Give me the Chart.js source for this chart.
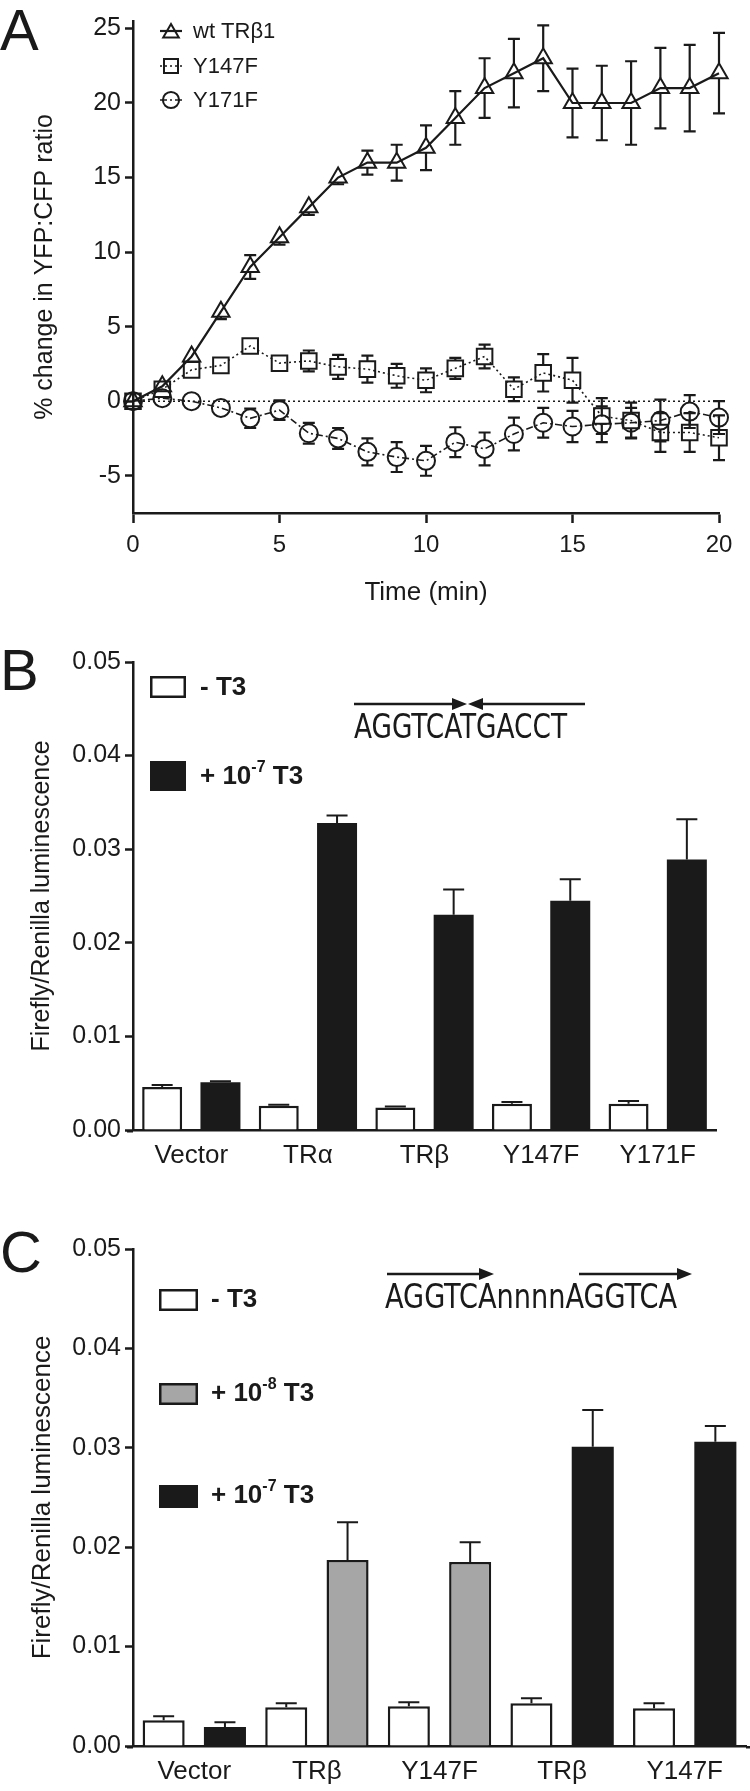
<!DOCTYPE html>
<html>
<head>
<meta charset="utf-8">
<script src="https://cdn.jsdelivr.net/npm/chart.js@4.4.1/dist/chart.umd.min.js"></script>
<style>
  body { margin: 0; background: #fff; width: 750px; height: 1791px; position: relative; overflow: hidden; }
  canvas { position: absolute; left: 0; }
</style>
</head>
<body>
<canvas id="panelA" width="750" height="620" style="top:0"></canvas>
<canvas id="panelB" width="750" height="570" style="top:620px"></canvas>
<canvas id="panelC" width="750" height="601" style="top:1190px"></canvas>
<script>
const FONT = '"Liberation Sans", Arial, Helvetica, sans-serif';
const SEQ_FONT = '"Liberation Sans Narrow", "DejaVu Sans Condensed", "Liberation Sans", sans-serif';
const INK = '#1a1a1a';

// ---- panel A: FRET time course ----
const timeMin = [0, 1, 2, 3, 4, 5, 6, 7, 8, 9, 10, 11, 12, 13, 14, 15, 16, 17, 18, 19, 20];
const wtMean = [0, 1, 3, 6, 9, 11, 13, 15, 16, 16, 17, 19, 21, 22, 23, 20, 20, 20, 21, 21, 22];
const wtErr = [0, 0.2, 0.3, 0.5, 0.8, 0.5, 0.5, 0.45, 0.8, 1.2, 1.5, 1.8, 2.0, 2.3, 2.2, 2.3, 2.5, 2.8, 2.7, 2.9, 2.7];
const y147Mean = [0, 0.8, 2.1, 2.4, 3.7, 2.55, 2.7, 2.3, 2.15, 1.7, 1.4, 2.2, 3.0, 0.8, 1.9, 1.4, -1.0, -1.3, -2.1, -2.1, -2.45];
const y147Err = [0, 0.2, 0.3, 0.3, 0.3, 0.3, 0.7, 0.8, 0.9, 0.8, 0.8, 0.7, 0.8, 0.8, 1.25, 1.5, 1.2, 1.2, 1.3, 1.3, 1.5];
const y171Mean = [0, 0.2, 0, -0.45, -1.15, -0.6, -2.15, -2.5, -3.4, -3.75, -4.0, -2.75, -3.2, -2.2, -1.45, -1.7, -1.55, -1.45, -1.3, -0.7, -1.1];
const y171Err = [0, 0.1, 0.1, 0.2, 0.65, 0.65, 0.7, 0.7, 0.9, 1.0, 1.0, 1.0, 1.1, 1.1, 1.0, 1.05, 1.2, 1.0, 1.4, 1.1, 1.1];
const yTicksA = [-5, 0, 5, 10, 15, 20, 25];

// ---- panel B: palindromic element ----
const catB = ['Vector', 'TRα', 'TRβ', 'Y147F', 'Y171F'];
const noT3B = [0.0046, 0.0026, 0.0024, 0.0028, 0.0028];
const noT3BErr = [0.0002, 0.0001, 0.0001, 0.0002, 0.0003];
const hiT3B = [0.0051, 0.0328, 0.0230, 0.0245, 0.0289];
const hiT3BErr = [0.0001, 0.0008, 0.0027, 0.0023, 0.0043];

// ---- panel C: DR4 element ----
const catC = ['Vector', 'TRβ', 'Y147F', 'TRβ', 'Y147F'];
const noT3C = [0.0026, 0.0039, 0.0040, 0.0043, 0.0038];
const noT3CErr = [0.0004, 0.0004, 0.0004, 0.0005, 0.0005];
const loT3C = [null, 0.0187, 0.0185, null, null];
const loT3CErr = [null, 0.0038, 0.0020, null, null];
const hiT3C = [0.0019, null, null, 0.0301, 0.0306];
const hiT3CErr = [0.0005, null, null, 0.0037, 0.0016];

// marker half-extents (up, down) so error bars stop at the symbol edge
function markerExtent(style, r) {
  if (style === 'triangle') return [r, r / 2];
  if (style === 'rect') return [r * Math.SQRT1_2, r * Math.SQRT1_2];
  return [r, r];
}

function drawMarker(ctx, style, r, x, y) {
  ctx.beginPath();
  if (style === 'triangle') {
    for (let k = 0; k < 3; k++) {
      const a = k * 2 * Math.PI / 3;
      const px = x + Math.sin(a) * r, py = y - Math.cos(a) * r;
      k ? ctx.lineTo(px, py) : ctx.moveTo(px, py);
    }
    ctx.closePath();
  } else if (style === 'rect') {
    const s = r * Math.SQRT1_2;
    ctx.rect(x - s, y - s, 2 * s, 2 * s);
  } else {
    ctx.arc(x, y, r, 0, Math.PI * 2);
  }
  ctx.stroke();
}

const errorBars = {
  id: 'errorBars',
  afterDatasetsDraw(chart, args, opts) {
    const { ctx } = chart;
    const ys = chart.scales.y;
    chart.data.datasets.forEach((ds, di) => {
      if (!ds.errors) return;
      const meta = chart.getDatasetMeta(di);
      ctx.save();
      ctx.strokeStyle = INK;
      ctx.lineWidth = opts.width;
      meta.data.forEach((el, i) => {
        const raw = ds.data[i];
        const err = ds.errors[i];
        if (raw == null || err == null) return;
        const v = typeof raw === 'object' ? raw.y : raw;
        const x = el.x, y = el.y;
        const top = ys.getPixelForValue(v + err);
        ctx.beginPath();
        if (opts.mode === 'bar') {
          ctx.moveTo(x, y); ctx.lineTo(x, top);
          ctx.moveTo(x - opts.cap, top); ctx.lineTo(x + opts.cap, top);
        } else {
          const bot = ys.getPixelForValue(v - err);
          const [up, down] = markerExtent(ds.pointStyle, ds.pointRadius);
          if (top < y - up) {
            ctx.moveTo(x, y - up); ctx.lineTo(x, top);
            ctx.moveTo(x - opts.cap, top); ctx.lineTo(x + opts.cap, top);
          }
          if (bot > y + down) {
            ctx.moveTo(x, y + down); ctx.lineTo(x, bot);
            ctx.moveTo(x - opts.cap, bot); ctx.lineTo(x + opts.cap, bot);
          }
        }
        ctx.stroke();
      });
      ctx.restore();
    });
  }
};

function panelLetter(ctx, letter, y) {
  ctx.save();
  ctx.fillStyle = INK;
  ctx.font = `58px ${FONT}`;
  ctx.textBaseline = 'alphabetic';
  ctx.fillText(letter, 0, y);
  ctx.restore();
}

// the x axis line of the bar panels runs a little past the plot area
function axisOverhang(chart, left, right) {
  const { ctx, chartArea } = chart;
  const y = chart.scales.x.top + 1.25;
  ctx.save();
  ctx.strokeStyle = INK;
  ctx.lineWidth = 2.5;
  ctx.beginPath();
  ctx.moveTo(chartArea.left - left, y); ctx.lineTo(chartArea.left, y);
  ctx.moveTo(chartArea.right, y); ctx.lineTo(chartArea.right + right, y);
  ctx.stroke();
  ctx.restore();
}

// bold legend text with an optional superscript exponent
function legendText(ctx, x, y, base, exp, tail, size) {
  ctx.save();
  ctx.fillStyle = INK;
  ctx.textBaseline = 'middle';
  ctx.font = `bold ${size}px ${FONT}`;
  ctx.fillText(base, x, y);
  x += ctx.measureText(base).width;
  if (exp) {
    ctx.font = `bold ${Math.round(size * 0.62)}px ${FONT}`;
    ctx.fillText(exp, x, y - size * 0.38);
    x += ctx.measureText(exp).width;
    ctx.font = `bold ${size}px ${FONT}`;
    ctx.fillText(tail, x, y);
  }
  ctx.restore();
}

function legendBox(ctx, x, y, w, h, fill) {
  ctx.save();
  ctx.fillStyle = fill;
  ctx.fillRect(x, y, w, h);
  ctx.strokeStyle = INK;
  ctx.lineWidth = 2.5;
  ctx.strokeRect(x + 1.25, y + 1.25, w - 2.5, h - 2.5);
  ctx.restore();
}

function arrow(ctx, x1, x2, y) {
  const dir = x2 > x1 ? 1 : -1;
  const hx = x2 - dir * 15;
  ctx.save();
  ctx.strokeStyle = INK; ctx.fillStyle = INK; ctx.lineWidth = 2.5;
  ctx.beginPath(); ctx.moveTo(x1, y); ctx.lineTo(hx, y); ctx.stroke();
  ctx.beginPath(); ctx.moveTo(x2, y); ctx.lineTo(hx, y - 6); ctx.lineTo(hx, y + 6); ctx.closePath(); ctx.fill();
  ctx.restore();
}

function sequence(ctx, text, x, baseline, width) {
  ctx.save();
  ctx.fillStyle = INK;
  ctx.font = `33px ${SEQ_FONT}`;
  ctx.textBaseline = 'alphabetic';
  const w = ctx.measureText(text).width;
  ctx.translate(x, baseline);
  ctx.scale(width / w, 1);
  ctx.fillText(text, 0, 0);
  ctx.restore();
}

function fixed(size) {
  return s => { if (s.isHorizontal()) s.height = size; else s.width = size; };
}

// ---------- Panel A ----------
const seriesA = [
  { label: 'wt TRβ1', mean: wtMean, err: wtErr, style: 'triangle', radius: 10, dash: [] , width: 2.2 },
  { label: 'Y147F', mean: y147Mean, err: y147Err, style: 'rect', radius: 11, dash: [2, 3], width: 1.6 },
  { label: 'Y171F', mean: y171Mean, err: y171Err, style: 'circle', radius: 9, dash: [7, 3, 2, 3], width: 1.6 }
];

const legendA = {
  id: 'legendA',
  afterDraw(chart) {
    const { ctx } = chart;
    panelLetter(ctx, 'A', 50);
    const rows = [31, 66, 100];
    seriesA.forEach((s, i) => {
      const y = rows[i];
      ctx.save();
      ctx.strokeStyle = INK;
      ctx.lineWidth = s.width;
      ctx.setLineDash(s.dash);
      ctx.beginPath(); ctx.moveTo(160, y); ctx.lineTo(182, y); ctx.stroke();
      ctx.setLineDash([]);
      ctx.lineWidth = 2;
      drawMarker(ctx, s.style, s.radius * 0.9, 171, s.style === 'triangle' ? y + 2 : y);
      ctx.fillStyle = INK;
      ctx.font = `22px ${FONT}`;
      ctx.textBaseline = 'middle';
      ctx.fillText(s.label, 193, y + 1);
      ctx.restore();
    });
  }
};

new Chart(document.getElementById('panelA'), {
  type: 'line',
  data: {
    datasets: [
      {
        label: 'zero',
        data: [{ x: timeMin[0], y: 0 }, { x: timeMin[timeMin.length - 1], y: 0 }],
        borderColor: INK, borderWidth: 1.6, borderDash: [2, 3], pointRadius: 0
      },
      ...seriesA.map(s => ({
        label: s.label,
        data: timeMin.map((t, i) => ({ x: t, y: s.mean[i] })),
        errors: s.err,
        borderColor: INK,
        borderWidth: s.width,
        borderDash: s.dash,
        pointStyle: s.style,
        pointRadius: s.radius,
        pointBorderWidth: 2,
        pointBorderColor: INK,
        pointBackgroundColor: 'rgba(255,255,255,0)',
        tension: 0,
        clip: false
      }))
    ]
  },
  options: {
    responsive: false,
    animation: false,
    layout: { padding: { top: 21, right: 31, left: 0, bottom: 0 } },
    scales: {
      x: {
        type: 'linear', min: 0, max: 20,
        ticks: { stepSize: 5, color: INK, font: { family: FONT, size: 24 }, padding: 8 },
        grid: { drawOnChartArea: false, tickLength: 10, tickWidth: 2.5, tickColor: INK },
        border: { color: INK, width: 2.5 },
        title: { display: true, text: 'Time (min)', color: INK, font: { family: FONT, size: 26 }, padding: { top: 0, bottom: 12 } },
        afterFit: fixed(107)
      },
      y: {
        min: -7.5, max: 25.5,
        afterBuildTicks: s => { s.ticks = yTicksA.map(v => ({ value: v })); },
        ticks: { color: INK, font: { family: FONT, size: 25 }, padding: 4 },
        grid: { drawOnChartArea: false, tickLength: 8, tickWidth: 2.5, tickColor: INK },
        border: { color: INK, width: 2.5 },
        title: { display: true, text: '% change in YFP:CFP ratio', color: INK, font: { family: FONT, size: 25 }, padding: { top: 30, bottom: 0 } },
        afterFit: fixed(133)
      }
    },
    plugins: {
      legend: { display: false },
      tooltip: { enabled: false },
      errorBars: { mode: 'point', cap: 6, width: 2.2 }
    }
  },
  plugins: [errorBars, legendA]
});

// ---------- bar panels ----------
function barOptions(cfg) {
  return {
    responsive: false,
    animation: false,
    layout: { padding: { top: cfg.top, right: cfg.right, left: 0, bottom: 0 } },
    datasets: { bar: { categoryPercentage: 1.0, barPercentage: 0.686, skipNull: true } },
    scales: {
      x: {
        ticks: { color: INK, font: { family: FONT, size: 26 }, padding: 10 },
        grid: { display: false, drawTicks: false },
        border: { color: INK, width: 2.5 },
        afterFit: fixed(cfg.xHeight)
      },
      y: {
        min: 0, max: 0.05,
        ticks: { stepSize: 0.01, color: INK, font: { family: FONT, size: 25 }, padding: 4, callback: v => v.toFixed(2) },
        grid: { drawOnChartArea: false, tickLength: 8, tickWidth: 2.5, tickColor: INK },
        border: { color: INK, width: 2.5 },
        title: { display: true, text: 'Firefly/Renilla luminescence', color: INK, font: { family: FONT, size: cfg.titleSize }, padding: { top: cfg.titlePad, bottom: 0 } },
        afterFit: fixed(133)
      }
    },
    plugins: {
      legend: { display: false },
      tooltip: { enabled: false },
      errorBars: { mode: 'bar', cap: 10.5, width: 2 }
    }
  };
}

function whiteBars(label, data, errors) {
  return { label, data, errors, backgroundColor: '#ffffff', borderColor: INK, borderWidth: 2.5 };
}
function filledBars(label, data, errors, fill, border) {
  return { label, data, errors, backgroundColor: fill, borderColor: INK, borderWidth: border };
}

// ---------- Panel B ----------
const decorB = {
  id: 'decorB',
  afterDraw(chart) {
    const { ctx } = chart;
    axisOverhang(chart, 6, 0);
    panelLetter(ctx, 'B', 70);
    legendBox(ctx, 150, 56, 36, 22, '#ffffff');
    legendText(ctx, 200, 68, '- T3', null, null, 26);
    legendBox(ctx, 150, 141, 36, 30, INK);
    legendText(ctx, 200, 157, '+ 10', '-7', ' T3', 26);
    arrow(ctx, 354, 467, 84);
    arrow(ctx, 585, 468, 84);
    sequence(ctx, 'AGGTCATGACCT', 354, 118, 213);
  }
};

new Chart(document.getElementById('panelB'), {
  type: 'bar',
  data: {
    labels: catB,
    datasets: [
      whiteBars('- T3', noT3B, noT3BErr),
      filledBars('+ 10-7 T3', hiT3B, hiT3BErr, INK, 0)
    ]
  },
  options: barOptions({ top: 42, right: 34, xHeight: 60, titleSize: 25, titlePad: 27 }),
  plugins: [errorBars, decorB]
});

// ---------- Panel C ----------
const decorC = {
  id: 'decorC',
  afterDraw(chart) {
    const { ctx } = chart;
    axisOverhang(chart, 6, 4);
    panelLetter(ctx, 'C', 82);
    legendBox(ctx, 159, 99, 39, 22, '#ffffff');
    legendText(ctx, 211, 110, '- T3', null, null, 26);
    legendBox(ctx, 159, 193, 39, 22, '#a6a6a6');
    legendText(ctx, 211, 204, '+ 10', '-8', ' T3', 26);
    legendBox(ctx, 159, 295, 39, 23, INK);
    legendText(ctx, 211, 306, '+ 10', '-7', ' T3', 26);
    arrow(ctx, 387, 494, 84);
    arrow(ctx, 579, 692, 84);
    sequence(ctx, 'AGGTCAnnnnAGGTCA', 385, 118, 292);
  }
};

new Chart(document.getElementById('panelC'), {
  type: 'bar',
  data: {
    labels: catC,
    datasets: [
      whiteBars('- T3', noT3C, noT3CErr),
      filledBars('+ 10-8 T3', loT3C, loT3CErr, '#a6a6a6', 2.5),
      filledBars('+ 10-7 T3', hiT3C, hiT3CErr, INK, 0)
    ]
  },
  options: barOptions({ top: 59, right: 4, xHeight: 45, titleSize: 26, titlePad: 27 }),
  plugins: [errorBars, decorC]
});
</script>
</body>
</html>
